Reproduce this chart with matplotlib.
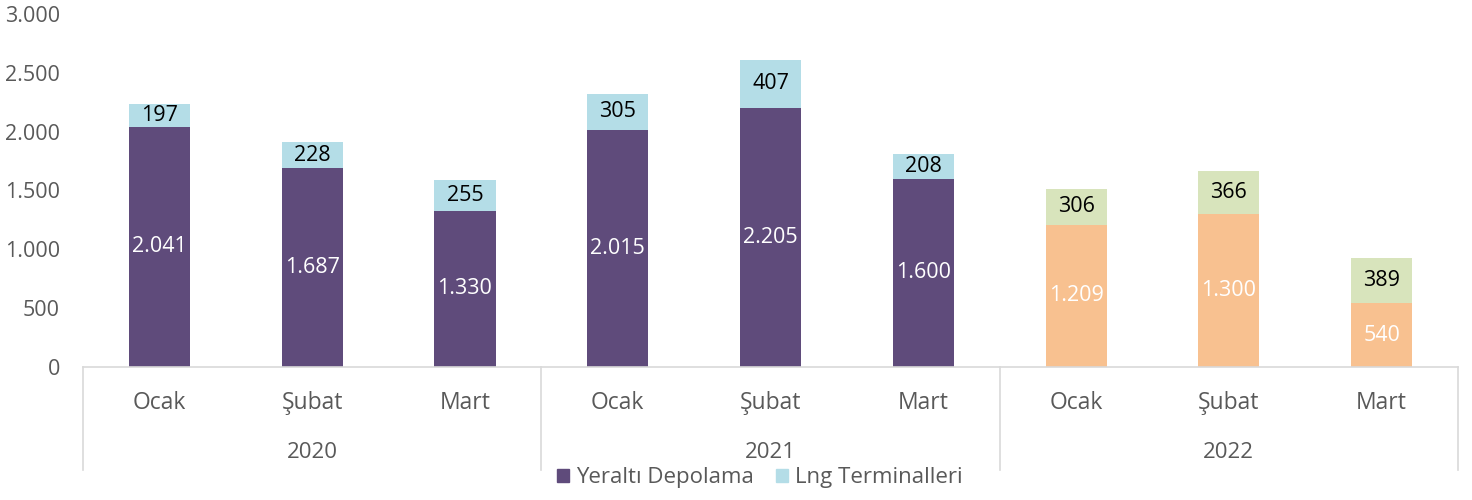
import matplotlib
matplotlib.use("Agg")
import matplotlib.pyplot as plt
import matplotlib.transforms as mtransforms
from matplotlib.patches import Patch

plt.rcParams["font.family"] = ["Open Sans", "DejaVu Sans"]

# ── Data ──────────────────────────────────────────────────────────────────────
MONTHS    = ["Ocak", "Şubat", "Mart"] * 3
YEARS     = ["2020", "2021", "2022"]
YERALTI   = [2041, 1687, 1330, 2015, 2205, 1600, 1209, 1300, 540]
LNG       = [197, 228, 255, 305, 407, 208, 306, 366, 389]

PURPLE = "#5F4B7B"
BLUE   = "#B4DDE7"
ORANGE = "#F8C190"
GREEN  = "#D8E4BC"
GRAY   = "#595959"
LINE   = "#D9D9D9"

def fmt(v):
    return f"{v:,}".replace(",", ".")

fig = plt.figure(figsize=(14.72, 5), dpi=100)
ax = fig.add_axes([0.0564, 0.266, 0.9341, 0.706])

x = list(range(len(MONTHS)))
bottom_cols = [PURPLE] * 6 + [ORANGE] * 3
top_cols    = [BLUE] * 6 + [GREEN] * 3

ax.bar(x, YERALTI, width=0.4, color=bottom_cols, zorder=2)
ax.bar(x, LNG, width=0.4, bottom=YERALTI, color=top_cols, zorder=2)

for i in x:
    ax.text(i, YERALTI[i] / 2, fmt(YERALTI[i]), ha="center", va="center",
            color="white", fontsize=15.5)
    ax.text(i, YERALTI[i] + LNG[i] / 2, fmt(LNG[i]), ha="center", va="center",
            color="black", fontsize=15.5)

ax.set_xlim(-0.5, 8.5)
ax.set_ylim(0, 3000)
ax.set_yticks(range(0, 3001, 500))
ax.set_yticklabels([fmt(v) for v in range(0, 3001, 500)], color=GRAY, fontsize=15.5)
ax.tick_params(axis="y", length=0, pad=16.5)
ax.set_xticks([])
for s in ["top", "right", "left"]:
    ax.spines[s].set_visible(False)
ax.spines["bottom"].set_color(LINE)
ax.spines["bottom"].set_linewidth(1.2)

# ── Two-level category axis ──────────────────────────────────────────────────
trans = mtransforms.blended_transform_factory(ax.transData, ax.transAxes)
for i in x:
    ax.text(i, -0.102, MONTHS[i], transform=trans, ha="center", va="center",
            color=GRAY, fontsize=16.5)
for k, yr in enumerate(YEARS):
    ax.text(3 * k + 1, -0.243, yr, transform=trans, ha="center", va="center",
            color=GRAY, fontsize=16)
for xs in [-0.5, 2.5, 5.5, 8.5]:
    ax.plot([xs, xs], [0, -0.292], transform=trans, color=LINE, lw=1.2,
            clip_on=False)

handles = [Patch(color=PURPLE, label="Yeraltı Depolama"),
           Patch(color=BLUE, label="Lng Terminalleri")]
fig.legend(handles=handles, loc="center", bbox_to_anchor=(0.516, 0.044), ncol=2,
           frameon=False, fontsize=16, handlelength=0.55, handleheight=0.55,
           handletextpad=0.3, columnspacing=1.0, labelcolor=GRAY)

fig.savefig("out.png", dpi=100)
